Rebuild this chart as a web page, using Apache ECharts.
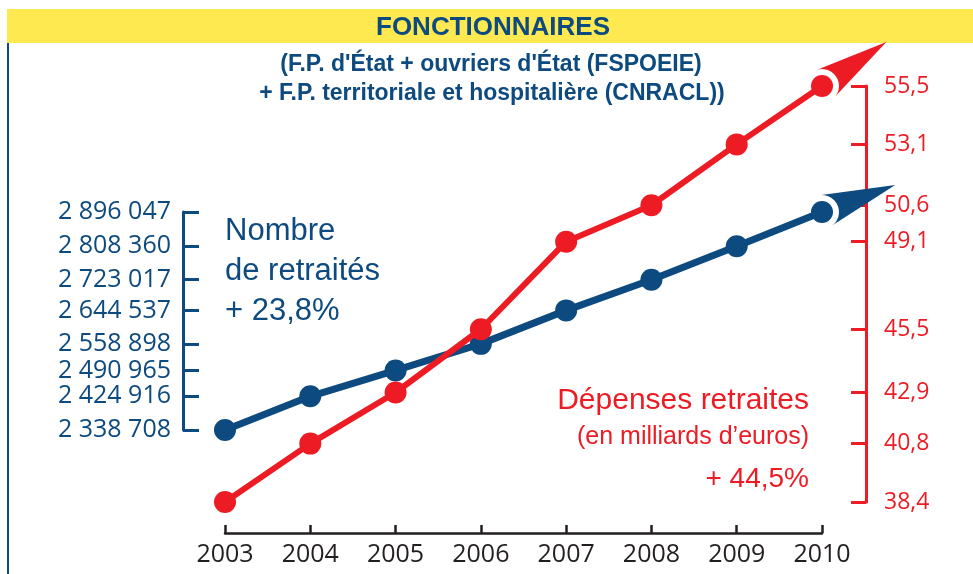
<!DOCTYPE html>
<html>
<head>
<meta charset="utf-8">
<script src="https://cdn.jsdelivr.net/npm/echarts@6/dist/echarts.min.js"></script>
<style>
html,body{margin:0;padding:0;background:#fff;}
#chart{width:973px;height:574px;}
</style>
</head>
<body>
<div id="chart"></div>
<script>
var years = ['2003','2004','2005','2006','2007','2008','2009','2010'];
var retraites = [2338708, 2424916, 2490965, 2558898, 2644537, 2723017, 2808360, 2896047];
var depenses = [38.4, 40.8, 42.9, 45.5, 49.1, 50.6, 53.1, 55.5];
var leftTicks = [2338708, 2424916, 2490965, 2558898, 2644537, 2723017, 2808360, 2896047];
var rightTicks = [38.4, 40.8, 42.9, 45.5, 49.1, 50.6, 53.1, 55.5];

var BLUE = '#0d4a7f';
var RED = '#ed1c24';
var AXISFONT = '"Open Sans", "Noto Sans", sans-serif';
var TEXTFONT = '"Liberation Sans", Arial, sans-serif';

function fmtSpace(v){ return String(v).replace(/\B(?=(\d{3})+(?!\d))/g, ' '); }
function fmtComma(v){ return String(v).replace('.', ','); }

var chart = echarts.init(document.getElementById('chart'), null, {renderer:'canvas'});

var option = {
  animation: false,
  backgroundColor: '#ffffff',
  grid: [
    {left: 225, right: 151, top: 212, height: 218},
    {left: 225, right: 151, top: 86, height: 416}
  ],
  xAxis: [
    {gridIndex: 0, type: 'category', data: years, boundaryGap: false, show: false},
    {gridIndex: 1, type: 'category', data: years, boundaryGap: false, position: 'bottom', offset: 31,
     axisLine: {lineStyle: {color: '#231f20', width: 2.5}},
     axisTick: {inside: true, length: 8, lineStyle: {color: '#231f20', width: 2.5}},
     axisLabel: {color: '#231f20', fontFamily: AXISFONT, fontSize: 25, margin: 9},
     splitLine: {show: false}}
  ],
  yAxis: [
    {gridIndex: 0, type: 'value', position: 'left', offset: 42,
     min: leftTicks[0], max: leftTicks[leftTicks.length-1],
     axisLine: {show: true, lineStyle: {color: BLUE, width: 3}},
     axisTick: {show: true, inside: true, length: 16, lineStyle: {color: BLUE, width: 3}, customValues: leftTicks},
     axisLabel: {color: BLUE, fontFamily: AXISFONT, fontSize: 25, margin: 12, customValues: leftTicks, formatter: fmtSpace},
     splitLine: {show: false}},
    {gridIndex: 1, type: 'value', position: 'right', offset: 44,
     min: rightTicks[0], max: rightTicks[rightTicks.length-1],
     axisLine: {show: true, lineStyle: {color: RED, width: 3}},
     axisTick: {show: true, inside: true, length: 15, lineStyle: {color: RED, width: 3}, customValues: rightTicks},
     axisLabel: {color: RED, fontFamily: AXISFONT, fontSize: 23, margin: 18, customValues: rightTicks, formatter: fmtComma},
     splitLine: {show: false}}
  ],
  series: [
    {name: 'Nombre de retraités', type: 'line', xAxisIndex: 0, yAxisIndex: 0, data: retraites,
     symbol: 'circle', symbolSize: 22, showSymbol: true,
     lineStyle: {color: BLUE, width: 7}, itemStyle: {color: BLUE}, z: 3},
    {name: 'Dépenses retraites', type: 'line', xAxisIndex: 1, yAxisIndex: 1, data: depenses,
     symbol: 'circle', symbolSize: 22, showSymbol: true,
     lineStyle: {color: RED, width: 6}, itemStyle: {color: RED}, z: 4}
  ],
  graphic: []
};

chart.setOption(option);

function arrowFor(seriesIndex, values, color, tipLen, tilt){
  var n = values.length;
  var P = chart.convertToPixel({seriesIndex: seriesIndex}, [n-1, values[n-1]]);
  var Q = chart.convertToPixel({seriesIndex: seriesIndex}, [n-2, values[n-2]]);
  var dx = P[0]-Q[0], dy = P[1]-Q[1];
  var base = Math.atan2(dy, dx) + tilt;
  dx = Math.cos(base); dy = Math.sin(base);
  var pts = [];
  var R = 17;
  pts.push([P[0]+dx*tipLen, P[1]+dy*tipLen]);
  var spread = 72*Math.PI/180;
  var steps = 12;
  for (var i=0;i<=steps;i++){
    var a = base + spread - (2*spread*i/steps);
    pts.push([P[0]+Math.cos(a)*R, P[1]+Math.sin(a)*R]);
  }
  return {type:'polygon', z: 100, shape:{points: pts}, style:{fill: color}};
}

var graphics = [
  {type:'rect', z: 1, shape:{x:7, y:9, width:966, height:34}, style:{fill:'#feea50'}},
  {type:'line', z: 1, shape:{x1:8, y1:43, x2:8, y2:574}, style:{stroke: BLUE, lineWidth: 2}},
  {type:'text', z: 2, style:{text:'FONCTIONNAIRES', x:493, y:28, textAlign:'center', textVerticalAlign:'middle',
    font:'bold 26px ' + TEXTFONT, fill: BLUE}},
  {type:'text', z: 2, style:{text:"(F.P. d'État + ouvriers d'État (FSPOEIE)", x:491, y:65, textAlign:'center', textVerticalAlign:'middle',
    font:'bold 23px ' + TEXTFONT, fill: BLUE}},
  {type:'text', z: 2, style:{text:'+ F.P. territoriale et hospitalière (CNRACL))', x:492, y:94, textAlign:'center', textVerticalAlign:'middle',
    font:'bold 23px ' + TEXTFONT, fill: BLUE}},
  {type:'text', z: 2, style:{text:'Nombre', x:225, y:231, textAlign:'left', textVerticalAlign:'middle', font:'31px ' + TEXTFONT, fill: BLUE}},
  {type:'text', z: 2, style:{text:'de retraités', x:225, y:271, textAlign:'left', textVerticalAlign:'middle', font:'31px ' + TEXTFONT, fill: BLUE}},
  {type:'text', z: 2, style:{text:'+ 23,8%', x:225, y:311, textAlign:'left', textVerticalAlign:'middle', font:'31px ' + TEXTFONT, fill: BLUE}},
  {type:'text', z: 2, style:{text:'Dépenses retraites', x:809, y:401, textAlign:'right', textVerticalAlign:'middle', font:'30px ' + TEXTFONT, fill: RED}},
  {type:'text', z: 2, style:{text:'(en milliards d\u2019euros)', x:809, y:437, textAlign:'right', textVerticalAlign:'middle', font:'25px ' + TEXTFONT, fill: RED}},
  {type:'text', z: 2, style:{text:'+ 44,5%', x:809, y:479, textAlign:'right', textVerticalAlign:'middle', font:'28px ' + TEXTFONT, fill: RED}},
  arrowFor(1, depenses, RED, 78, 0),
  arrowFor(0, retraites, BLUE, 78, 0.03)
];

chart.setOption({graphic: graphics});
</script>
</body>
</html>
